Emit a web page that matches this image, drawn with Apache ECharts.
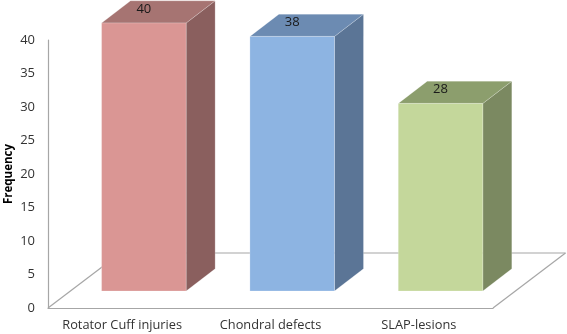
<!DOCTYPE html>
<html>
<head>
<meta charset="utf-8">
<style>html,body{margin:0;padding:0;background:#fff}#c{width:567px;height:334px}</style>
<script src="https://cdn.jsdelivr.net/npm/echarts@6/dist/echarts.min.js"></script>
</head>
<body>
<div id="c"></div>
<script>
const categories = ['Rotator Cuff injuries', 'Chondral defects', 'SLAP-lesions'];
const frequency = [40, 38, 28];
const yTicks = { min: 0, max: 40, interval: 5 };
const frontColors = ['#DA9694', '#8DB4E2', '#C4D79B'];
const sideColors = ['#8A5F5E', '#5B7596', '#7B8961'];
const topColors = ['#A67472', '#6C8BB2', '#8C9E6D'];

const FONT = '"Open Sans", sans-serif';
const FLOOR_LINE = '#A6A6A6';
const FLOOR_DX = 72.5, FLOOR_DY = 55;   // depth of the floor
const BAR_DX = 21.7, BAR_DY = 17;       // bar foot offset from the front edge
const SIDE_DX = 29, SIDE_DY = 22.2;     // depth of each bar
const BAR_W_RATIO = 0.57;

const chart = echarts.init(document.getElementById('c'), null, { renderer: 'canvas' });

function renderFloor(params, api) {
  const cs = params.coordSys;
  const x0 = cs.x, x1 = cs.x + cs.width, y0 = cs.y + cs.height;
  const line = (a, b, c, d) => ({
    type: 'line', shape: { x1: a, y1: b, x2: c, y2: d },
    style: { stroke: FLOOR_LINE, lineWidth: 1.2, fill: null }
  });
  return { type: 'group', silent: true, children: [
    line(x0, y0, x0 + FLOOR_DX, y0 - FLOOR_DY),
    line(x0 + FLOOR_DX, y0 - FLOOR_DY, x1 + FLOOR_DX, y0 - FLOOR_DY),
    line(x1, y0, x1 + FLOOR_DX, y0 - FLOOR_DY)
  ]};
}

function renderBar(params, api) {
  const i = api.value(0), v = api.value(1);
  const top = api.coord([i, v]), base = api.coord([i, 0]);
  const w = api.size([1, 0])[0] * BAR_W_RATIO;
  const l = top[0] + BAR_DX - w / 2, r = l + w;
  const yTop = top[1] - BAR_DY, yBot = base[1] - BAR_DY;
  const poly = (pts, fill) => ({
    type: 'polygon', shape: { points: pts },
    style: { fill, stroke: 'rgba(255,255,255,0.35)', lineWidth: 0.6 }
  });
  return { type: 'group', children: [
    poly([[r, yTop], [r + SIDE_DX, yTop - SIDE_DY], [r + SIDE_DX, yBot - SIDE_DY], [r, yBot]], sideColors[i]),
    poly([[l, yTop], [l + SIDE_DX, yTop - SIDE_DY], [r + SIDE_DX, yTop - SIDE_DY], [r, yTop]], topColors[i]),
    poly([[l, yTop], [r, yTop], [r, yBot], [l, yBot]], frontColors[i]),
    { type: 'text', z2: 10, style: {
        x: (l + r) / 2 , y: yTop - 14, text: String(v),
        fill: '#1a1a1a', font: '13px ' + FONT, textAlign: 'center', textVerticalAlign: 'middle'
    } }
  ]};
}

chart.setOption({
  animation: false,
  backgroundColor: '#fff',
  grid: { left: 48, right: 74, top: 40, bottom: 26, containLabel: false, outerBoundsMode: 'none' },
  xAxis: {
    type: 'category', data: categories,
    axisTick: { show: false },
    axisLine: { lineStyle: { color: FLOOR_LINE, width: 1.2 } },
    axisLabel: { color: '#333', fontFamily: FONT, fontSize: 12.8, margin: 11, interval: 0 }
  },
  yAxis: {
    type: 'value', min: yTicks.min, max: yTicks.max, interval: yTicks.interval,
    name: 'Frequency', nameLocation: 'middle', nameGap: 33, nameRotate: 90, nameMoveOverlap: false,
    nameTextStyle: { color: '#000', fontFamily: FONT, fontWeight: 'bold', fontSize: 11.5 },
    axisTick: { show: false },
    splitLine: { show: false },
    axisLine: { show: true, lineStyle: { color: FLOOR_LINE, width: 1.2 } },
    axisLabel: { color: '#333', fontFamily: FONT, fontSize: 13, margin: 13 }
  },
  series: [
    { type: 'custom', name: 'floor', clip: false, z: 1, silent: true,
      data: [[0, 0]], encode: { x: 0, y: 1 }, renderItem: renderFloor },
    { type: 'custom', name: 'Frequency', clip: false, z: 3,
      data: frequency.map((v, i) => [i, v]), encode: { x: 0, y: 1 }, renderItem: renderBar }
  ]
});
</script>
</body>
</html>
